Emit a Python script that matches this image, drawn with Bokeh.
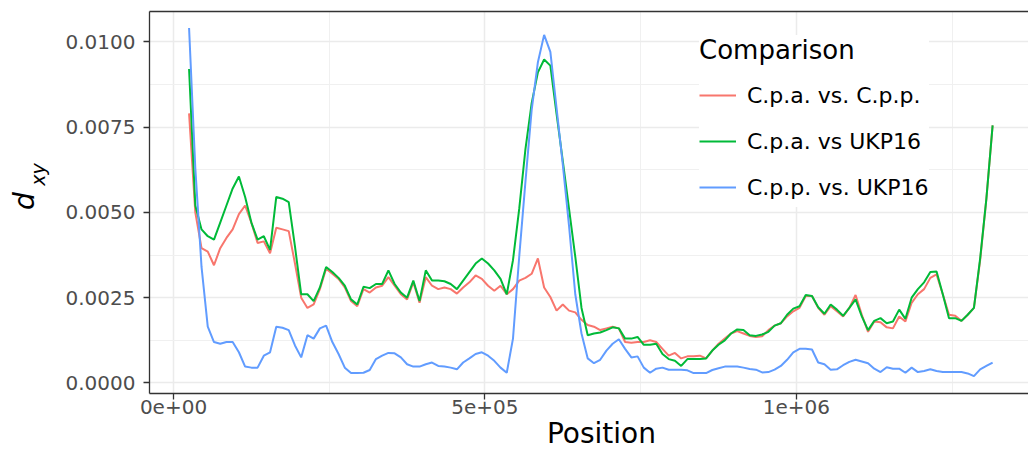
from bokeh.plotting import figure
from bokeh.models import (ColumnDataSource, FixedTicker, NumeralTickFormatter,
                          Legend, LegendItem, LinearAxis)
from bokeh.embed import file_html
from bokeh.resources import INLINE

# ---------------- data ----------------
position = [
    25000, 35000, 45000, 55000, 65000, 75000, 85000, 95000, 105000, 115000,
    125000, 135000, 145000, 155000, 165000, 175000, 185000, 195000, 205000, 215000,
    225000, 235000, 245000, 255000, 265000, 275000, 285000, 295000, 305000, 315000,
    325000, 335000, 345000, 355000, 365000, 375000, 385000, 395000, 405000, 415000,
    425000, 435000, 445000, 455000, 465000, 475000, 485000, 495000, 505000, 515000,
    525000, 535000, 545000, 555000, 565000, 575000, 585000, 595000, 605000, 615000,
    625000, 635000, 645000, 655000, 665000, 675000, 685000, 695000, 705000, 715000,
    725000, 735000, 745000, 755000, 765000, 775000, 785000, 795000, 805000, 815000,
    825000, 835000, 845000, 855000, 865000, 875000, 885000, 895000, 905000, 915000,
    925000, 935000, 945000, 955000, 965000, 975000, 985000, 995000, 1005000, 1015000,
    1025000, 1035000, 1045000, 1055000, 1065000, 1075000, 1085000, 1095000, 1105000, 1115000,
    1125000, 1135000, 1145000, 1155000, 1165000, 1175000, 1185000, 1195000, 1205000, 1215000,
    1225000, 1235000, 1245000, 1255000, 1265000, 1275000, 1285000, 1295000, 1305000, 1315000,
]

cpa_vs_cpp = [
    0.00790, 0.00500, 0.00395, 0.00385, 0.00345, 0.00395, 0.00425, 0.00450, 0.00495, 0.00520,
    0.00470, 0.00410, 0.00415, 0.00380, 0.00455, 0.00450, 0.00445, 0.00350, 0.00250, 0.00220,
    0.00230, 0.00275, 0.00335, 0.00320, 0.00305, 0.00280, 0.00240, 0.00225, 0.00275, 0.00265,
    0.00280, 0.00285, 0.00310, 0.00285, 0.00260, 0.00245, 0.00295, 0.00235, 0.00310, 0.00285,
    0.00275, 0.00280, 0.00275, 0.00262, 0.00280, 0.00295, 0.00315, 0.00305, 0.00285, 0.00270,
    0.00285, 0.00260, 0.00275, 0.00300, 0.00308, 0.00320, 0.00365, 0.00280, 0.00252, 0.00212,
    0.00230, 0.00212, 0.00207, 0.00185, 0.00170, 0.00165, 0.00155, 0.00160, 0.00165, 0.00160,
    0.00120, 0.00118, 0.00120, 0.00120, 0.00125, 0.00120, 0.00100, 0.00080, 0.00088, 0.00072,
    0.00078, 0.00078, 0.00080, 0.00072, 0.00095, 0.00115, 0.00130, 0.00145, 0.00152, 0.00145,
    0.00138, 0.00135, 0.00137, 0.00155, 0.00168, 0.00175, 0.00195, 0.00210, 0.00220, 0.00255,
    0.00255, 0.00220, 0.00200, 0.00225, 0.00210, 0.00195, 0.00220, 0.00258, 0.00200, 0.00150,
    0.00180, 0.00178, 0.00163, 0.00160, 0.00195, 0.00180, 0.00235, 0.00260, 0.00275, 0.00308,
    0.00318, 0.00260, 0.00200, 0.00197, 0.00182, 0.00200, 0.00220, 0.00360, 0.00540, 0.00755,
]

cpa_vs_ukp16 = [
    0.00920, 0.00520, 0.00450, 0.00430, 0.00420, 0.00470, 0.00520, 0.00570, 0.00605, 0.00545,
    0.00470, 0.00420, 0.00430, 0.00390, 0.00545, 0.00540, 0.00530, 0.00400, 0.00260, 0.00260,
    0.00240, 0.00280, 0.00340, 0.00325, 0.00308, 0.00285, 0.00245, 0.00230, 0.00282, 0.00278,
    0.00290, 0.00290, 0.00330, 0.00290, 0.00265, 0.00250, 0.00300, 0.00240, 0.00330, 0.00300,
    0.00300, 0.00298, 0.00290, 0.00275, 0.00300, 0.00325, 0.00350, 0.00365, 0.00350, 0.00330,
    0.00305, 0.00260, 0.00360, 0.00510, 0.00685, 0.00820, 0.00910, 0.00948, 0.00930, 0.00788,
    0.00650, 0.00510, 0.00370, 0.00220, 0.00140, 0.00145, 0.00148, 0.00155, 0.00163, 0.00160,
    0.00130, 0.00130, 0.00135, 0.00112, 0.00112, 0.00115, 0.00085, 0.00070, 0.00065, 0.00050,
    0.00070, 0.00070, 0.00070, 0.00072, 0.00095, 0.00112, 0.00125, 0.00145, 0.00157, 0.00155,
    0.00140, 0.00138, 0.00142, 0.00150, 0.00168, 0.00175, 0.00200, 0.00218, 0.00225, 0.00258,
    0.00255, 0.00222, 0.00203, 0.00230, 0.00215, 0.00197, 0.00220, 0.00245, 0.00195, 0.00155,
    0.00182, 0.00190, 0.00175, 0.00180, 0.00215, 0.00188, 0.00250, 0.00275, 0.00295, 0.00325,
    0.00327, 0.00260, 0.00190, 0.00190, 0.00182, 0.00200, 0.00220, 0.00365, 0.00540, 0.00755,
]

cpp_vs_ukp16 = [
    0.01040, 0.00630, 0.00340, 0.00165, 0.00120, 0.00115, 0.00120, 0.00120, 0.00090, 0.00048,
    0.00045, 0.00045, 0.00080, 0.00090, 0.00165, 0.00162, 0.00155, 0.00110, 0.00075, 0.00140,
    0.00130, 0.00160, 0.00168, 0.00120, 0.00085, 0.00045, 0.00029, 0.00029, 0.00030, 0.00038,
    0.00070, 0.00080, 0.00088, 0.00087, 0.00075, 0.00055, 0.00048, 0.00048, 0.00055, 0.00060,
    0.00050, 0.00048, 0.00045, 0.00040, 0.00060, 0.00072, 0.00085, 0.00090, 0.00080, 0.00065,
    0.00045, 0.00030, 0.00130, 0.00370, 0.00590, 0.00800, 0.00940, 0.01020, 0.00970, 0.00805,
    0.00640, 0.00460, 0.00260, 0.00145, 0.00072, 0.00058, 0.00068, 0.00095, 0.00115, 0.00128,
    0.00100, 0.00075, 0.00078, 0.00045, 0.00030, 0.00042, 0.00045, 0.00039, 0.00039, 0.00039,
    0.00037, 0.00029, 0.00029, 0.00029, 0.00038, 0.00043, 0.00048, 0.00048, 0.00048, 0.00045,
    0.00041, 0.00039, 0.00031, 0.00032, 0.00039, 0.00050, 0.00068, 0.00090, 0.00100, 0.00100,
    0.00098, 0.00060, 0.00055, 0.00039, 0.00040, 0.00052, 0.00062, 0.00068, 0.00063, 0.00058,
    0.00042, 0.00032, 0.00046, 0.00042, 0.00042, 0.00030, 0.00045, 0.00032, 0.00035, 0.00040,
    0.00035, 0.00032, 0.00032, 0.00032, 0.00032, 0.00028, 0.00020, 0.00040, 0.00050, 0.00060,
]

series_names = ["C.p.a. vs. C.p.p.", "C.p.a. vs UKP16", "C.p.p. vs. UKP16"]
series_colors = ["#F8766D", "#00BA38", "#619CFF"]

x_ticks = [0, 500000, 1000000]
x_tick_labels = ["0e+00", "5e+05", "1e+06"]
x_minor_ticks = [250000, 750000, 1250000]
y_ticks = [0.0, 0.0025, 0.005, 0.0075, 0.01]
y_minor_ticks = [0.00125, 0.00375, 0.00625, 0.00875]

x_title = "Position"
y_title_main = "d"
y_title_sub = "xy"

FONT = "DejaVu Sans"

# ---------------- figure ----------------
p = figure(width=1028, height=455, output_backend="svg", toolbar_location=None,
           x_range=(-38530, 1372600), y_range=(-0.000308, 0.010885),
           min_border_left=149, min_border_right=0, min_border_top=11,
           min_border_bottom=62)
p.outline_line_color = None
p.background_fill_color = "white"
p.border_fill_color = "white"

src = ColumnDataSource(dict(position=position, a=cpa_vs_cpp, b=cpa_vs_ukp16, c=cpp_vs_ukp16))
renderers = []
for col, color in zip(["a", "b", "c"], series_colors):
    r = p.line("position", col, source=src, line_color=color, line_width=2.0)
    renderers.append(r)

# main axes
xa = p.xaxis[0]
xa.ticker = FixedTicker(ticks=x_ticks, minor_ticks=x_minor_ticks)
xa.major_label_overrides = {t: l for t, l in zip(x_ticks, x_tick_labels)}
ya = p.yaxis[0]
ya.ticker = FixedTicker(ticks=y_ticks, minor_ticks=y_minor_ticks)
ya.formatter = NumeralTickFormatter(format="0.0000")
for ax in (xa, ya):
    ax.axis_line_color = "#333333"
    ax.axis_line_width = 1.3
    ax.major_tick_line_color = "#333333"
    ax.major_tick_line_width = 1.3
    ax.major_tick_out = 6
    ax.major_tick_in = 0
    ax.minor_tick_out = 0
    ax.minor_tick_in = 0
    ax.major_label_text_font = FONT
    ax.major_label_text_font_size = "20px"
    ax.major_label_text_color = "#4D4D4D"
xa.major_label_standoff = 0
ya.major_label_standoff = 8

top = LinearAxis(ticker=FixedTicker(ticks=[]), major_label_text_font_size="0px",
                 major_tick_out=0, major_tick_in=0, minor_tick_out=0, minor_tick_in=0,
                 axis_line_color="#333333", axis_line_width=1.3)
p.add_layout(top, "above")


def title_axis(anchor, text, size, style, standoff, vertical):
    ax = LinearAxis(ticker=FixedTicker(ticks=[anchor], minor_ticks=[]),
                    major_label_overrides={anchor: text},
                    major_label_text_font=FONT, major_label_text_font_size=size,
                    major_label_text_font_style=style, major_label_text_color="black",
                    major_label_standoff=standoff,
                    major_tick_out=0, major_tick_in=0, minor_tick_out=0, minor_tick_in=0,
                    axis_line_color=None)
    if vertical:
        ax.major_label_orientation = "vertical"
    return ax


# axis titles placed as single-label axes (text anchors, not data marks)
p.add_layout(title_axis(687000, x_title, "28px", "normal", 0, False), "below")
p.add_layout(title_axis(0.00611, y_title_sub, "19px", "italic", 13, True), "left")
p.add_layout(title_axis(0.00533, y_title_main, "28px", "italic", -17, True), "left")

# grids
p.xgrid.grid_line_color = "#EBEBEB"
p.ygrid.grid_line_color = "#EBEBEB"
p.xgrid.grid_line_width = 1.5
p.ygrid.grid_line_width = 1.5
p.xgrid.minor_grid_line_color = "#F0F0F0"
p.ygrid.minor_grid_line_color = "#F0F0F0"
p.xgrid.minor_grid_line_width = 1.0
p.ygrid.minor_grid_line_width = 1.0

# legend
items = [LegendItem(label=n, renderers=[r]) for n, r in zip(series_names, renderers)]
legend = Legend(items=items, location=(550, 186), title="Comparison",
                title_text_font=FONT, title_text_font_size="26px", title_text_color="black",
                title_text_font_style="normal", title_standoff=10,
                label_text_font=FONT, label_text_font_size="22px", label_text_color="black",
                glyph_width=37, glyph_height=40, label_height=40, spacing=6,
                label_standoff=11, padding=15, margin=0,
                border_line_color=None, background_fill_color="white",
                background_fill_alpha=1.0)
p.add_layout(legend)

open("out.html", "w").write(file_html(p, INLINE))
